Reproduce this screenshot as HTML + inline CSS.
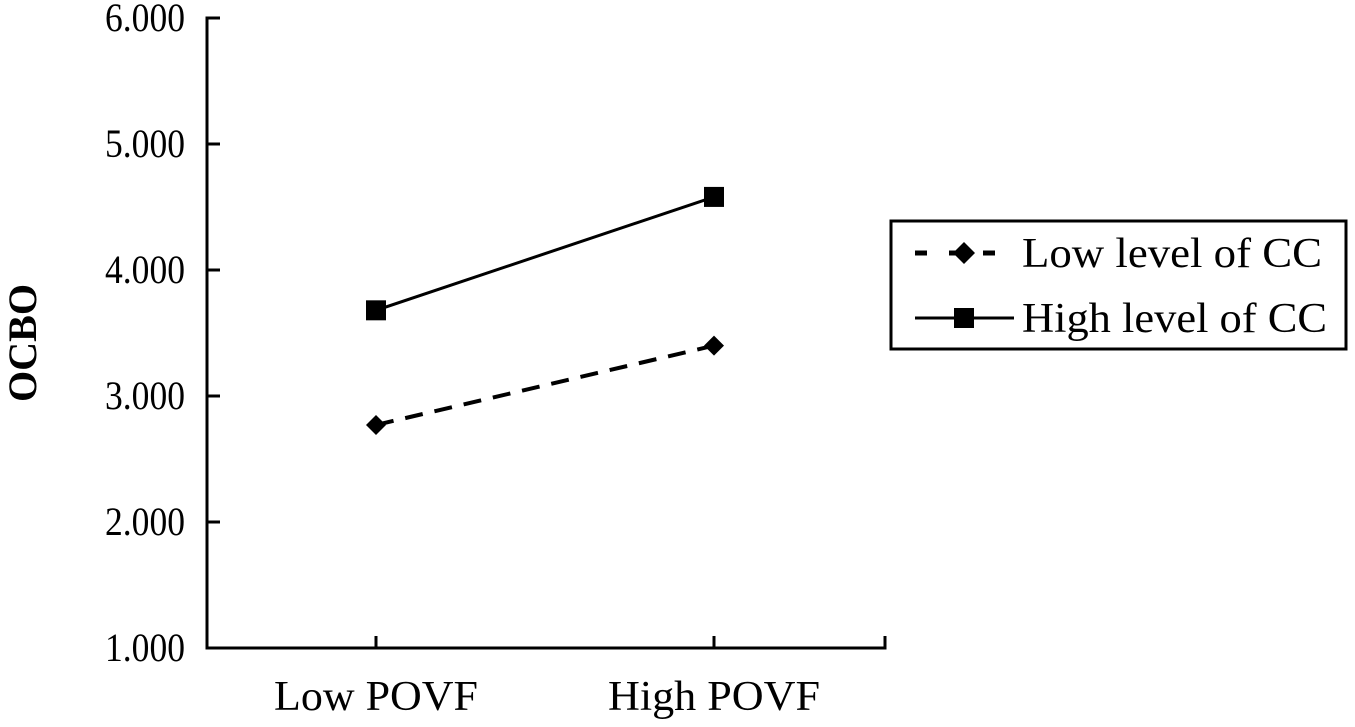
<!DOCTYPE html>
<html><head><meta charset="utf-8"><style>
html,body{margin:0;padding:0;background:#fff}
svg{display:block;font-family:"Liberation Serif",serif}
</style></head><body>
<svg id="chart" width="1355" height="727" viewBox="0 0 1355 727"></svg>
<script>
const categories=["Low POVF","High POVF"];
const lowCC=[2.77,3.40];
const highCC=[3.68,4.58];
const yTicks=[1,2,3,4,5,6];
const yTickLabels=["1.000","2.000","3.000","4.000","5.000","6.000"];
const NS="http://www.w3.org/2000/svg";
const svg=document.getElementById('chart');
const x0=207,x1=885,y0=648,yTop=18;
const yScale=v=>y0-(v-1)*(y0-yTop)/5;
const xScale=i=>376+(714-376)*i/(categories.length-1);
function mk(t,a,p){const e=document.createElementNS(NS,t);for(const k in a)e.setAttribute(k,a[k]);(p||svg).appendChild(e);return e;}
let e;
e=mk('line',{x1:x0,y1:yTop-1.5,x2:x0,y2:y0+1.5,stroke:'#000','stroke-width':3});


e=mk('line',{x1:x0,y1:y0,x2:x1,y2:y0,stroke:'#000','stroke-width':3});


yTicks.forEach((v,i)=>{
 const y=yScale(v);
 e=mk('line',{x1:x0,y1:y,x2:x0+13,y2:y,stroke:'#000','stroke-width':3});
 
 
 e=mk('text',{x:x0-22,y:y+13,'text-anchor':'end','font-size':40,textLength:80,lengthAdjust:'spacingAndGlyphs'});
 e.textContent=yTickLabels[i];
 
 
});
categories.forEach((c,i)=>{
 e=mk('line',{x1:xScale(i),y1:y0,x2:xScale(i),y2:y0-12,stroke:'#000','stroke-width':3});
 
 
 e=mk('text',{x:xScale(i),y:710,'text-anchor':'middle','font-size':42,textLength:i?212:204,lengthAdjust:'spacingAndGlyphs'});
 e.textContent=c;
 
 
});
e=mk('line',{x1:x1,y1:y0+1.5,x2:x1,y2:y0-12,stroke:'#000','stroke-width':3});


e=mk('text',{x:0,y:0,'text-anchor':'middle','font-size':40,'font-weight':'bold',textLength:118,lengthAdjust:'spacingAndGlyphs',transform:'translate(36,343) rotate(-90)'});
e.textContent='OCBO';


e=mk('line',{x1:xScale(0),y1:yScale(lowCC[0]),x2:xScale(1),y2:yScale(lowCC[1]),stroke:'#000','stroke-width':4,'stroke-dasharray':'18,12'});


lowCC.forEach((v,i)=>{const x=xScale(i),y=yScale(v);
 e=mk('polygon',{points:`${x},${y-10} ${x+10},${y} ${x},${y+10} ${x-10},${y}`,fill:'#000'});
 
 });
e=mk('line',{x1:xScale(0),y1:yScale(highCC[0]),x2:xScale(1),y2:yScale(highCC[1]),stroke:'#000','stroke-width':3});


highCC.forEach((v,i)=>{const x=xScale(i),y=yScale(v);
 e=mk('rect',{x:x-10,y:y-10,width:20,height:20,fill:'#000'});
 
 });
const g=mk('g',{});


mk('rect',{x:891,y:221,width:455,height:128,fill:'none',stroke:'#000','stroke-width':3},g);
e=mk('line',{x1:915,y1:253,x2:1014,y2:253,stroke:'#000','stroke-width':5,'stroke-dasharray':'12,22'},g);


mk('polygon',{points:'964,242 975,253 964,264 953,253',fill:'#000'},g);
e=mk('text',{x:1022,y:267,'font-size':42,textLength:300,lengthAdjust:'spacingAndGlyphs'},g);e.textContent='Low level of CC';


e=mk('line',{x1:915,y1:318,x2:1014,y2:318,stroke:'#000','stroke-width':3},g);


mk('rect',{x:954,y:308,width:20,height:20,fill:'#000'},g);
e=mk('text',{x:1022,y:332,'font-size':42,textLength:305,lengthAdjust:'spacingAndGlyphs'},g);e.textContent='High level of CC';


</script>
</body></html>
